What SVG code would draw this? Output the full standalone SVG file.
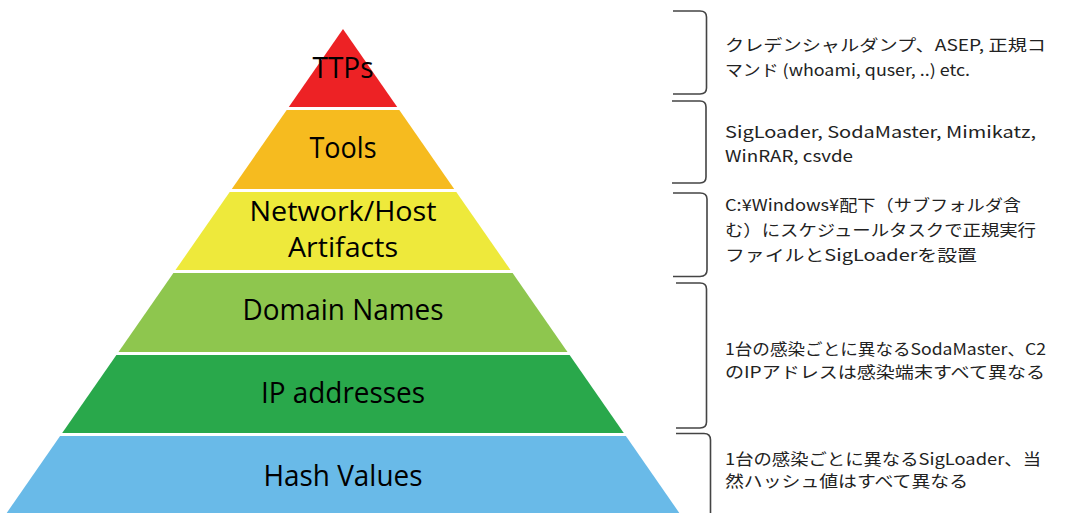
<svg xmlns="http://www.w3.org/2000/svg" width="1068" height="513" viewBox="0 0 1068 513">
<style>
.lbl{font-family:"Open Sans","Liberation Sans",sans-serif;font-size:30px;fill:#000;text-anchor:middle}
.sm{font-size:28px}
.note{font-family:"Noto Sans CJK JP","Noto Sans",sans-serif;font-size:16px;fill:#222}
.br{fill:none;stroke:#444;stroke-width:1.6}
</style>
<rect width="1068" height="513" fill="#fff"/>
<g id="ttps">
<polygon points="343,29 397.2,107 288.8,107" fill="#ED2225"/>
<text class="lbl" x="343" y="78" textLength="61" lengthAdjust="spacingAndGlyphs">TTPs</text>
</g>
<g id="tools">
<polygon points="286.7,110 399.3,110 454.2,189 231.8,189" fill="#F6BB1F"/>
<text class="lbl" x="343" y="158" textLength="67" lengthAdjust="spacingAndGlyphs">Tools</text>
</g>
<g id="network">
<polygon points="229.7,192 456.3,192 510.5,270 175.5,270" fill="#EEE93B"/>
<text class="lbl sm" x="343" y="221" textLength="187" lengthAdjust="spacingAndGlyphs">Network/Host</text>
<text class="lbl sm" x="343" y="257" textLength="110" lengthAdjust="spacingAndGlyphs">Artifacts</text>
</g>
<g id="domain">
<polygon points="173.4,273 512.6,273 567.5,352 118.5,352" fill="#8EC64E"/>
<text class="lbl" x="343" y="320" textLength="201" lengthAdjust="spacingAndGlyphs">Domain Names</text>
</g>
<g id="ip">
<polygon points="116.4,355 569.6,355 623.8,433 62.2,433" fill="#29A84B"/>
<text class="lbl" x="343" y="403" textLength="164" lengthAdjust="spacingAndGlyphs">IP addresses</text>
</g>
<g id="hash">
<polygon points="60.1,436 625.9,436 684.2,520 1.8,520" fill="#69BAE8"/>
<text class="lbl" x="343" y="486" textLength="159" lengthAdjust="spacingAndGlyphs">Hash Values</text>
</g>
<g id="connectors">
<path class="br" d="M673,11 L700,11 Q706.5,11 706.5,17 L706.5,88 Q706.5,94 700,94 L673,94"/>
<path class="br" d="M672,101 L700,101 Q706,101 706,107 L706,177 Q706,183 700,183 L672,183"/>
<path class="br" d="M673,193 L700,193 Q707,193 707,199 L707,270 Q707,276.5 700,276.5 L673,276.5"/>
<path class="br" d="M676,283 L700,283 Q706.5,283 706.5,289 L706.5,422 Q706.5,428 700,428 L676,428"/>
<path class="br" d="M676,433.5 L704,433.5 Q710.5,433.5 710.5,440 L710.5,513"/>
</g>
<g id="notes">
<text class="note" x="725" y="51" textLength="321" lengthAdjust="spacingAndGlyphs">クレデンシャルダンプ、ASEP, 正規コ</text>
<text class="note" x="725" y="76" textLength="245" lengthAdjust="spacingAndGlyphs">マンド (whoami, quser, ..) etc.</text>
<text class="note" x="725" y="138" textLength="311" lengthAdjust="spacingAndGlyphs">SigLoader, SodaMaster, Mimikatz,</text>
<text class="note" x="725" y="162" textLength="128" lengthAdjust="spacingAndGlyphs">WinRAR, csvde</text>
<text class="note" x="725" y="211" textLength="296" lengthAdjust="spacingAndGlyphs">C:¥Windows¥配下（サブフォルダ含</text>
<text class="note" x="725" y="236" textLength="311" lengthAdjust="spacingAndGlyphs">む）にスケジュールタスクで正規実行</text>
<text class="note" x="725" y="261" textLength="252" lengthAdjust="spacingAndGlyphs">ファイルとSigLoaderを設置</text>
<text class="note" x="725" y="355" textLength="321" lengthAdjust="spacingAndGlyphs">1台の感染ごとに異なるSodaMaster、C2</text>
<text class="note" x="725" y="378" textLength="320" lengthAdjust="spacingAndGlyphs">のIPアドレスは感染端末すべて異なる</text>
<text class="note" x="725" y="465" textLength="316" lengthAdjust="spacingAndGlyphs">1台の感染ごとに異なるSigLoader、当</text>
<text class="note" x="725" y="487" textLength="243" lengthAdjust="spacingAndGlyphs">然ハッシュ値はすべて異なる</text>
</g>
</svg>
